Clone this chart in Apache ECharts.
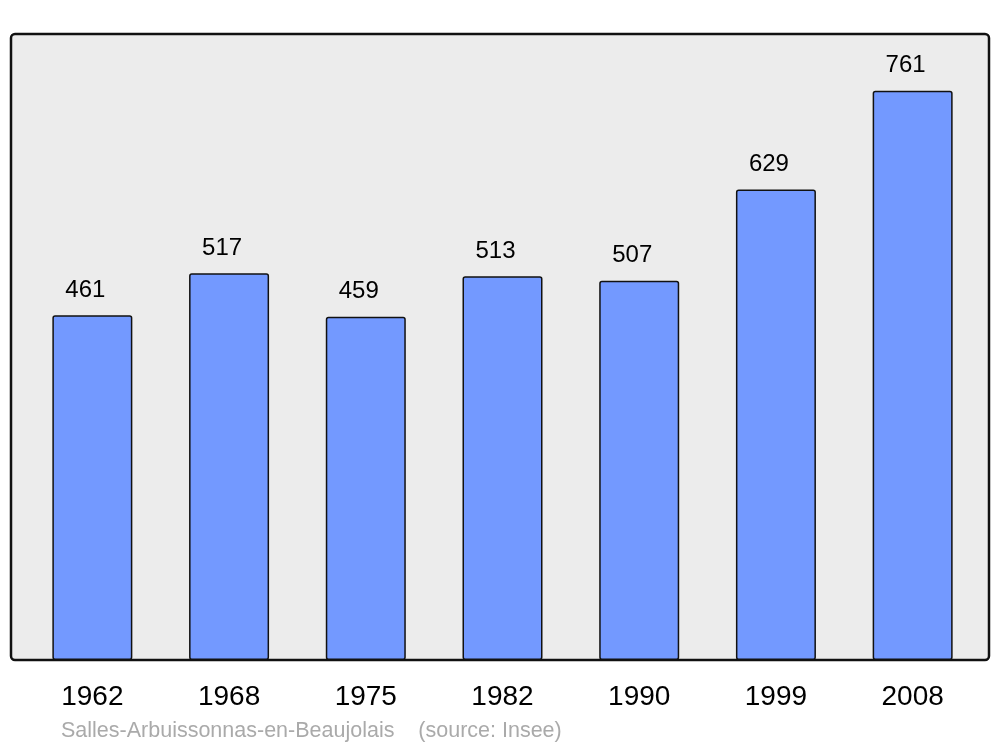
<!DOCTYPE html>
<html>
<head>
<meta charset="utf-8">
<script src="https://cdn.jsdelivr.net/npm/echarts@6/dist/echarts.min.js"></script>
<style>
  html, body { margin: 0; padding: 0; background: #fff; }
  #chart { width: 1000px; height: 747px; }
</style>
</head>
<body>
<div id="chart"></div>
<script>
// population by census year
const years = ['1962', '1968', '1975', '1982', '1990', '1999', '2008']
const population = [461, 517, 459, 513, 507, 629, 761]
const sourceText = 'Salles-Arbuissonnas-en-Beaujolais    (source: Insee)'

const chart = echarts.init(document.getElementById('chart'))

chart.setOption({
  animation: false,
  backgroundColor: '#fff',
  textStyle: { fontFamily: 'Liberation Sans, Arial, sans-serif' },
  grid: {
    left: 24,
    right: 19,
    top: 34,
    bottom: 87
  },
  graphic: [
    {
      type: 'rect',
      z: -1,
      shape: { x: 11, y: 34, width: 978, height: 626, r: 4 },
      style: { fill: '#ececec', stroke: '#111', lineWidth: 2.5 }
    },
    {
      type: 'text',
      left: 61,
      top: 720,
      style: {
        text: sourceText,
        fill: '#aaaaaa',
        fontSize: 21.5,
        fontFamily: 'Liberation Sans, Arial, sans-serif'
      }
    }
  ],
  xAxis: {
    type: 'category',
    data: years,
    axisLine: { show: false },
    axisTick: { show: false },
    axisLabel: {
      color: '#000',
      fontSize: 28,
      margin: 23
    }
  },
  yAxis: {
    type: 'value',
    min: 0,
    max: 837,
    show: false,
    splitLine: { show: false }
  },
  series: [
    {
      type: 'bar',
      data: population,
      barWidth: 80,
      itemStyle: {
        color: '#7399ff',
        borderColor: '#111',
        borderWidth: 1.5,
        borderRadius: 2
      },
      label: {
        show: true,
        position: 'top',
        distance: 13,
        offset: [-7, 0],
        color: '#000',
        fontSize: 24
      }
    }
  ]
})
</script>
</body>
</html>
